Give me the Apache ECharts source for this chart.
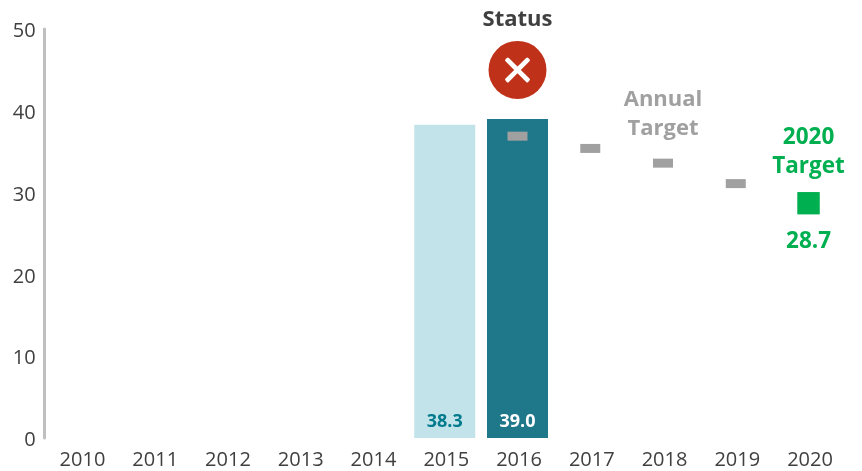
<!DOCTYPE html>
<html><head><meta charset="utf-8">
<script src="https://cdn.jsdelivr.net/npm/echarts@6/dist/echarts.min.js"></script>
<style>html,body{margin:0;padding:0;background:#fff}#c{width:862px;height:471px}</style>
</head><body><div id="c"></div>
<script>
var years = ['2010','2011','2012','2013','2014','2015','2016','2017','2018','2019','2020'];
var yTicks = [0,10,20,30,40,50];
var baseline = [null,null,null,null,null,38.3,null,null,null,null,null];
var actual = [null,null,null,null,null,null,39.0,null,null,null,null];
var annualTarget = [null,null,null,null,null,null,36.9,35.4,33.6,31.1,null];
var finalTarget = [null,null,null,null,null,null,null,null,null,null,28.7];
var statusPos = [null,null,null,null,null,null,45,null,null,null,null];
var statusFail = [null,null,null,null,null,null,true,null,null,null,null];

var FONT = '"Open Sans", sans-serif';
var CROSS = 'path://M3.2,0.6 L10,7.4 L16.8,0.6 Q17.6,-0.2 18.4,0.6 L19.4,1.6 Q20.2,2.4 19.4,3.2 L12.6,10 L19.4,16.8 Q20.2,17.6 19.4,18.4 L18.4,19.4 Q17.6,20.2 16.8,19.4 L10,12.6 L3.2,19.4 Q2.4,20.2 1.6,19.4 L0.6,18.4 Q-0.2,17.6 0.6,16.8 L7.4,10 L0.6,3.2 Q-0.2,2.4 0.6,1.6 L1.6,0.6 Q2.4,-0.2 3.2,0.6 Z';
var chart = echarts.init(document.getElementById('c'), null, {renderer:'canvas'});
function scatter(name, data, symbol, size, color, label, extra){
  return Object.assign({type:'scatter', name:name, data:data, symbol:symbol, symbolSize:size,
    itemStyle:{color:color, opacity:1}, label:label, silent:true, z:5, clip:false}, extra||{});
}
chart.setOption({
  animation:false,
  grid:{left:44.6,right:17.1,top:29,bottom:33,containLabel:false},
  xAxis:{type:'category',data:years,axisLine:{show:false},axisTick:{show:false},
    axisLabel:{color:'#404040',fontFamily:FONT,fontSize:20,margin:12,interval:0,padding:[0,0,0,3]},splitLine:{show:false}},
  yAxis:{type:'value',min:0,max:50,interval:yTicks[1]-yTicks[0],
    axisLine:{show:true,lineStyle:{color:'#bfbfbf',width:3}},axisTick:{show:false},splitLine:{show:false},
    axisLabel:{color:'#404040',fontFamily:FONT,fontSize:20,margin:9,verticalAlign:'top',lineHeight:5}},
  series:[
    {type:'bar',name:'2015',data:baseline,barWidth:61,barGap:'-100%',itemStyle:{color:'#c2e3ea'},silent:true,
     label:{show:true,position:'insideBottom',distance:7,color:'#007a8c',fontFamily:FONT,fontWeight:'bold',fontSize:18,
       formatter:function(p){return p.value.toFixed(1);}}},
    {type:'bar',name:'2016',data:actual,barWidth:61,barGap:'-100%',itemStyle:{color:'#1f778a'},silent:true,
     label:{show:true,position:'insideBottom',distance:7,color:'#ffffff',fontFamily:FONT,fontWeight:'bold',fontSize:18,
       formatter:function(p){return p.value.toFixed(1);}}},
    scatter('Annual Target',annualTarget,'rect',[20,9],'#a0a0a0',{
      show:true,position:'top',distance:15,color:'#a0a0a0',fontFamily:FONT,fontWeight:'bold',fontSize:22,lineHeight:29,
      formatter:function(p){return years[p.dataIndex]==='2018'?'Annual\nTarget':'';}
    }),
    scatter('2020 Target',finalTarget,'rect',22,'#00b050',{
      show:true,position:'top',distance:11,color:'#00b050',fontFamily:FONT,fontWeight:'bold',fontSize:22.5,lineHeight:29,
      formatter:'2020\nTarget'
    }),
    scatter('2020 Value',finalTarget,'rect',22,'#00b050',{
      show:true,position:'bottom',distance:16,color:'#00b050',fontFamily:FONT,fontWeight:'bold',fontSize:22.5,
      formatter:function(p){return p.value.toFixed(1);}
    }),
    scatter('Status',statusPos,'circle',58,'#c0311a',{
      show:true,position:'top',distance:10,color:'#404040',fontFamily:FONT,fontWeight:'bold',fontSize:22,
      formatter:'Status'
    }),
    scatter('Status mark',statusPos.map(function(v,i){return statusFail[i]?v:null;}),CROSS,25,'#ffffff',{show:false},{z:6})
  ]
});
</script></body></html>
